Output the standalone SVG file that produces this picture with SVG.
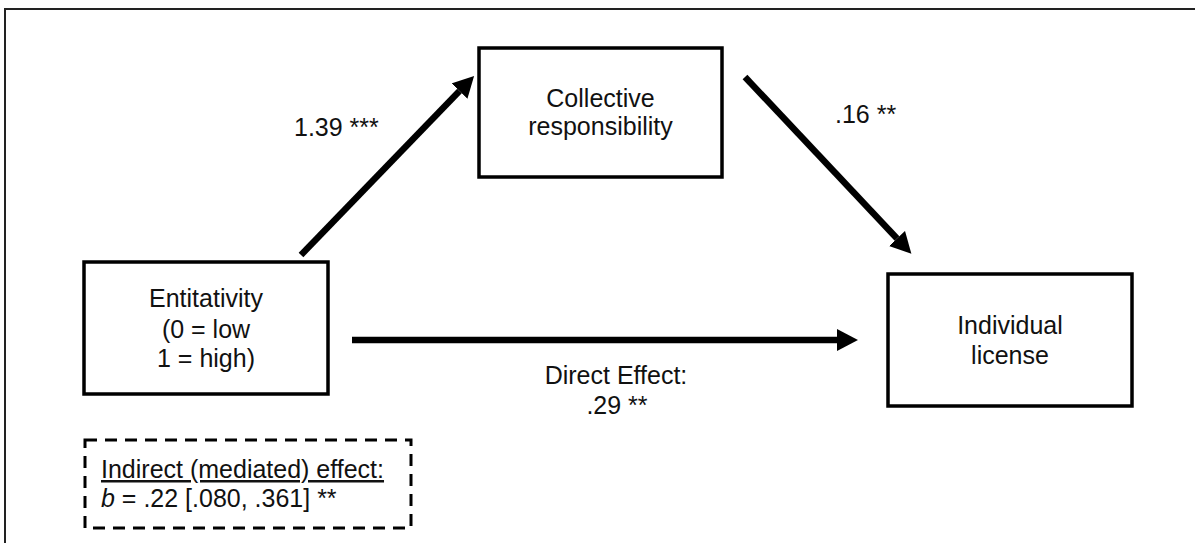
<svg xmlns="http://www.w3.org/2000/svg" width="1195" height="543" viewBox="0 0 1195 543">
<style>
  text { font-family: "Liberation Sans", Arial, sans-serif; font-size: 25px; fill: #111; }
  .box { fill: #fff; stroke: #000; stroke-width: 3.5; }
  .arrow { stroke: #000; stroke-width: 6.5; fill: none; marker-end: url(#head); }
  .mid { text-anchor: middle; }
</style>
<defs>
  <marker id="head" viewBox="0 -11 21 22" refX="0" refY="0" markerWidth="21" markerHeight="22" markerUnits="userSpaceOnUse" orient="auto">
    <path d="M0,-11 L21,0 L0,11 z" fill="#000"/>
  </marker>
</defs>
<rect width="1195" height="543" fill="#fff"/>
<rect x="5" y="9" width="1210" height="560" fill="none" stroke="#222" stroke-width="2"/>

<g id="connectors">
  <line class="arrow" x1="301" y1="255" x2="459.5" y2="91"/>
  <line class="arrow" x1="745" y1="77" x2="897" y2="238.5"/>
  <line class="arrow" x1="352" y1="340" x2="837" y2="340"/>
  <text x="294" y="136">1.39 ***</text>
  <text x="835" y="123">.16 **</text>
  <text class="mid" x="616" y="384">Direct Effect:</text>
  <text class="mid" x="617" y="414">.29 **</text>
</g>

<g id="collective">
  <rect class="box" x="479" y="48" width="243" height="129"/>
  <text class="mid" x="600.5" y="107">Collective</text>
  <text class="mid" x="600.5" y="135">responsibility</text>
</g>

<g id="entitativity">
  <rect class="box" x="84" y="262" width="244" height="132"/>
  <text class="mid" x="206" y="307">Entitativity</text>
  <text class="mid" x="206" y="338">(0 = low</text>
  <text class="mid" x="206" y="367">1 = high)</text>
</g>

<g id="license">
  <rect class="box" x="888" y="274" width="244" height="132"/>
  <text class="mid" x="1010" y="334">Individual</text>
  <text class="mid" x="1010" y="364">license</text>
</g>

<g id="indirect">
  <rect x="85" y="440" width="326" height="88" fill="none" stroke="#000" stroke-width="3" stroke-dasharray="12 8"/>
  <text x="101" y="478" text-decoration="underline">Indirect (mediated) effect:</text>
  <text x="101" y="507"><tspan font-style="italic">b</tspan> = .22 [.080, .361] **</text>
</g>
</svg>
